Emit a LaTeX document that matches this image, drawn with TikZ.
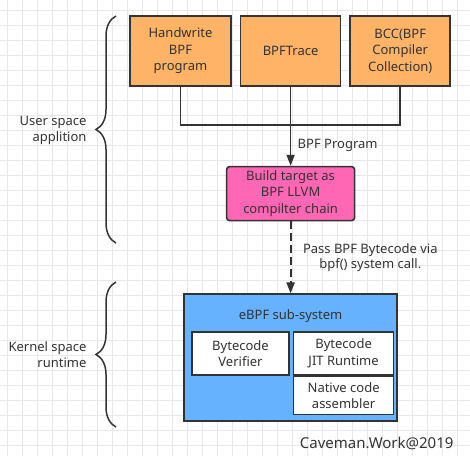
\documentclass[tikz,border=0pt]{standalone}
\usepackage{fontspec}
\setmainfont{Noto Sans}
\usetikzlibrary{positioning,arrows.meta,decorations.pathreplacing}
\definecolor{ink}{RGB}{51,51,51}
\definecolor{gridgray}{RGB}{232,232,232}
\definecolor{userorange}{RGB}{255,179,102}
\definecolor{llvmpink}{RGB}{255,102,179}
\definecolor{kernelblue}{RGB}{102,178,255}
\tikzset{
	box/.style={draw=ink, line width=1.6pt, text=ink, align=center, inner sep=0pt,
		font=\fontsize{13}{16.6}\selectfont},
	tool/.style={box, fill=userorange, minimum width=100pt, minimum height=70pt},
	part/.style={box, fill=white, minimum width=97pt, minimum height=43pt},
	lbl/.style={text=ink, align=center, font=\fontsize{13}{15.5}\selectfont},
	flow/.style={draw=ink, line width=1.6pt, -{Triangle[length=11pt,width=8pt]}},
	span/.style={draw=ink, line width=1.5pt, decorate,
		decoration={brace, amplitude=20pt}},
}
\begin{document}
\begin{tikzpicture}[x=1pt, y=1pt]
	\useasboundingbox (0,0) rectangle (470,-456);
	\foreach \x in {7,22,...,467} \draw[gridgray, line width=0.8pt] (\x,0) -- (\x,-456);
	\foreach \y in {10,25,...,455} \draw[gridgray, line width=0.8pt] (0,-\y) -- (470,-\y);

	\node [tool, minimum width=101pt] (hw) at (180.5,-51) {Handwrite\\BPF\\program};
	\node [tool, right=8pt of hw] (bt) {BPFTrace};
	\node [tool, right=8pt of bt] (bcc) {BCC(BPF\\Compiler\\Collection)};

	\node [box, fill=llvmpink, rounded corners=3pt, minimum width=128pt, minimum height=54pt,
		below=79pt of bt] (llvm) {Build target as\\BPF LLVM\\compilter chain};

	\node [box, fill=kernelblue, minimum width=213pt, minimum height=127pt,
		below=72pt of llvm] (ebpf) {};
	\node [lbl, below=13pt of ebpf.north] (title) {eBPF sub-system};
	\node [part] (verify) at (240.5,-353.5) {Bytecode\\Verifier};
	\node [part, minimum width=100pt, right=3pt of verify] (jit) {Bytecode\\JIT Runtime};
	\node [part, minimum width=100pt, minimum height=38pt, below=0pt of jit] (asm) {Native code\\assembler};

	\draw [ink, line width=1.6pt] (hw.south) |- (290,-125) -| (bcc.south);
	\draw [flow] (bt.south) -- node [lbl, pos=0.74, right=3pt] {BPF Program} (llvm.north);
	\draw [flow, line width=2.2pt, dash pattern=on 8pt off 4pt] (llvm.south)
		-- node [lbl, pos=0.5, right=8pt] {Pass BPF Bytecode via\\bpf() system call.} (ebpf.north);

	\coordinate (u1) at (116,-243);
	\coordinate (u2) at (116,-16);
	\coordinate (k1) at (116,-427);
	\coordinate (k2) at (116,-282);
	\draw [span] (u1) -- (u2);
	\draw [span] (k1) -- (k2);
	\node [lbl, align=right, anchor=east] (user) at (90,-130.5) {User space\\applition};
	\node [lbl, align=right, anchor=east] (kernel) at (90,-354.5) {Kernel space\\runtime};

	\node [lbl, anchor=east, font=\fontsize{15}{18}\selectfont] (sign) at (457,-443) {Caveman.Work@2019};
\end{tikzpicture}
\end{document}
